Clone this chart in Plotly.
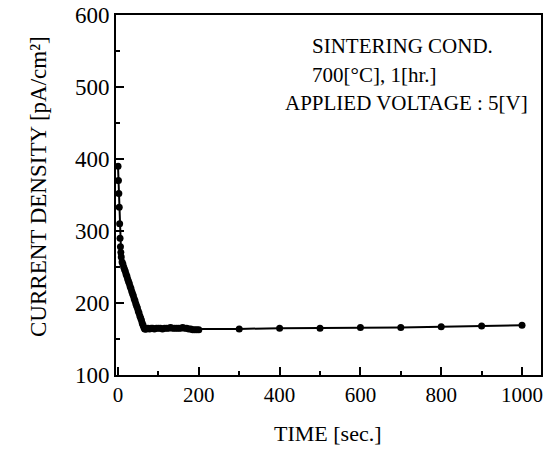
import plotly.graph_objects as go

time_sec = [0, 1, 2, 3, 4, 5, 6, 7, 8, 10, 12, 14, 16, 18, 20, 22, 24, 26, 28, 30,
            32, 34, 36, 38, 40, 42, 44, 46, 48, 50, 52, 54, 56, 58, 60, 62, 64, 66,
            68, 70, 74, 78, 82, 86, 90, 95, 100, 105, 110, 115, 120, 125, 130, 135,
            140, 145, 150, 155, 160, 165, 170, 175, 180, 185, 190, 195, 200,
            300, 400, 500, 600, 700, 800, 900, 1000]
current_density = [390, 370, 352, 333, 310, 290, 278, 270, 264, 257, 254, 250, 247, 244,
                   240, 237, 233, 230, 227, 223, 220, 216, 213, 210, 206, 203, 199, 196,
                   193, 189, 186, 182, 179, 176, 172, 169, 166, 164, 164, 164, 165, 164,
                   165, 165, 164, 165, 165, 165, 164, 165, 165, 165, 166, 165, 165, 165,
                   165, 165, 166, 165, 165, 164, 164, 163, 163, 163, 163,
                   164, 165, 165, 166, 166, 167, 168, 169]

x_ticks = [0, 200, 400, 600, 800, 1000]
y_ticks = [100, 200, 300, 400, 500, 600]

annotation_lines = ["SINTERING COND.", "700[°C], 1[hr.]", "APPLIED VOLTAGE : 5[V]"]
x_title = "TIME [sec.]"
y_title = "CURRENT DENSITY [pA/cm²]"

FONT = "Liberation Serif, Times New Roman, serif"

L, R, T, B = 116, 541, 15, 375
W, H = 560, 457


def px_x(px):
    return (px - L) / (R - L)


def px_y(py):
    return 1 - (py - T) / (B - T)


fig = go.Figure()
fig.add_trace(go.Scatter(
    x=time_sec, y=current_density, mode="lines+markers",
    line=dict(color="black", width=2),
    marker=dict(color="black", size=7),
    showlegend=False,
))

axis_common = dict(
    showline=True, linecolor="black", linewidth=2, mirror=True,
    ticks="inside", tickcolor="black", tickwidth=2,
    showgrid=False, zeroline=False, automargin=False,
)

fig.update_xaxes(
    range=[-5, 1047], tickvals=x_ticks, ticklen=8,
    tickfont=dict(family=FONT, size=21, color="black"),
    minor=dict(dtick=100, tick0=0, ticks="inside", ticklen=4, tickwidth=2, tickcolor="black"),
    **axis_common,
)
fig.update_yaxes(
    range=[100, 600], tickvals=y_ticks, ticklen=8,
    tickfont=dict(family=FONT, size=23, color="black"),
    minor=dict(dtick=50, tick0=0, ticks="inside", ticklen=4, tickwidth=2, tickcolor="black"),
    **axis_common,
)

ann_pos = [(310, 46), (310, 75), (283, 103)]
for text, (px, py) in zip(annotation_lines, ann_pos):
    fig.add_annotation(
        text=text, xref="paper", yref="paper",
        x=px_x(px), y=px_y(py),
        xanchor="left", yanchor="middle", showarrow=False,
        font=dict(family=FONT, size=21, color="black"),
    )

fig.add_annotation(
    text=x_title, xref="paper", yref="paper", x=px_x(328), y=px_y(433),
    xanchor="center", yanchor="middle", showarrow=False,
    font=dict(family=FONT, size=22, color="black"),
)
fig.add_annotation(
    text=y_title, xref="paper", yref="paper", x=px_x(38), y=px_y(187),
    xanchor="center", yanchor="middle", showarrow=False, textangle=-90,
    font=dict(family=FONT, size=23, color="black"),
)

fig.update_layout(
    width=W, height=H,
    margin=dict(l=L, r=W - R, t=T, b=H - B, autoexpand=False),
    paper_bgcolor="white", plot_bgcolor="white",
    font=dict(family=FONT, color="black"),
)

fig.write_html("out.html", config={"displayModeBar": False},
               post_script="document.body.style.margin='0';")
